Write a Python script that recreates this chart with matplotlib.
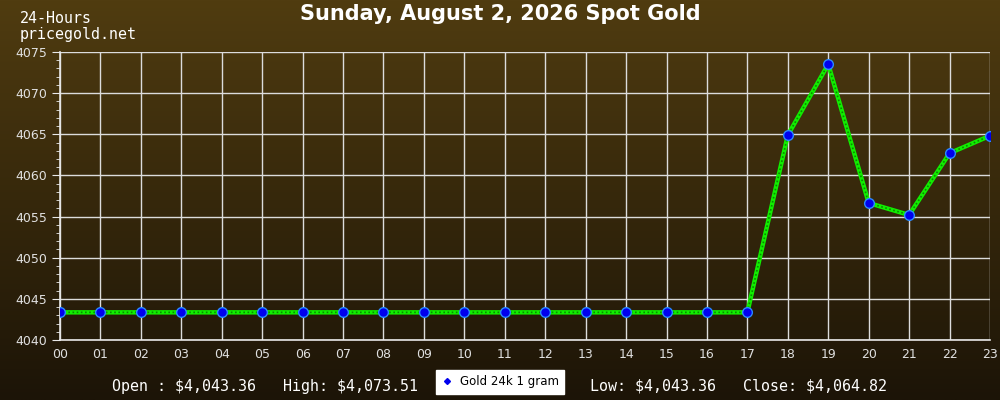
import numpy as np
import matplotlib
matplotlib.use("Agg")
import matplotlib.pyplot as plt
from matplotlib.lines import Line2D

hours = ["00","01","02","03","04","05","06","07","08","09","10","11",
         "12","13","14","15","16","17","18","19","20","21","22","23"]
prices = [4043.36]*18 + [4064.9, 4073.51, 4056.65, 4055.2, 4062.7, 4064.82]
yticks = [4040, 4045, 4050, 4055, 4060, 4065, 4070, 4075]
title = "Sunday, August 2, 2026 Spot Gold"
stats_left = "Open : \\$4,043.36   High: \\$4,073.51"
stats_right = "Low: \\$4,043.36   Close: \\$4,064.82"
legend_label = "Gold 24k 1 gram"

fig = plt.figure(figsize=(10, 4), dpi=100)

# gradient background
bg = fig.add_axes([0, 0, 1, 1], zorder=-10)
top = np.array([0x50, 0x3c, 0x10]) / 255
bot = np.array([0x1c, 0x14, 0x07]) / 255
t = np.linspace(0, 1, 256)[:, None]
grad = top[None, :] * (1 - t) + bot[None, :] * t
bg.imshow(grad[:, None, :].repeat(2, axis=1), aspect="auto", extent=[0, 1, 0, 1])
bg.set_axis_off()

ax = fig.add_axes([0.06, 0.15, 0.93, 0.72])
ax.patch.set_alpha(0)
x = np.arange(len(hours))
ax.plot(x, prices, color="#11ee00", lw=3.2, zorder=3, solid_capstyle="butt")
ax.plot(x, prices, color="#0a8a00", lw=1.2, ls=(0, (1, 1.5)), zorder=3)
ax.plot(x, prices, ls="none", marker="o", ms=7, mfc="#0000ee",
        mec="#2a8aff", mew=1, zorder=4)

ax.set_xlim(0, 23)
ax.set_ylim(4040, 4075)
ax.set_xticks(x)
ax.set_xticklabels(hours)
ax.set_yticks(yticks)
ax.set_yticks(np.arange(4040, 4076, 1), minor=True)
ax.grid(True, color="#dcdcdc", lw=1)
for s in ["top", "right"]:
    ax.spines[s].set_visible(False)
for s in ["left", "bottom"]:
    ax.spines[s].set_color("#e8e8e8")
    ax.spines[s].set_linewidth(1.2)
ax.tick_params(axis="y", which="major", length=6, color="#e8e8e8",
               labelcolor="#e0e0e0", labelsize=9)
ax.tick_params(axis="y", which="minor", length=3, color="#e8e8e8")
ax.tick_params(axis="x", length=0, labelcolor="#e0e0e0", labelsize=9, pad=6)
for lbl in ax.get_xticklabels() + ax.get_yticklabels():
    lbl.set_family("DejaVu Sans")

fig.text(0.5, 0.965, title, ha="center", va="center", color="white",
         fontsize=15, fontweight="bold", family="DejaVu Sans")
fig.text(0.02, 0.953, "24-Hours", ha="left", va="center", color="white",
         fontsize=10.8, family="DejaVu Sans Mono")
fig.text(0.02, 0.915, "pricegold.net", ha="left", va="center", color="white",
         fontsize=10.8, family="DejaVu Sans Mono")

fig.text(0.418, 0.035, stats_left, ha="right", va="center", color="white",
         fontsize=10.8, family="DejaVu Sans Mono")
fig.text(0.59, 0.035, stats_right, ha="left", va="center", color="white",
         fontsize=10.8, family="DejaVu Sans Mono")

handle = Line2D([], [], ls="none", marker="D", ms=3, mfc="#0000ee", mec="#0000ee")
leg = fig.legend([handle], [legend_label], loc="center", bbox_to_anchor=(0.5, 0.045),
                 frameon=True, fancybox=False, fontsize=8.5, handlelength=1,
                 handletextpad=0.6, borderpad=0.45, borderaxespad=0, framealpha=1)
leg.get_frame().set_facecolor("white")
leg.get_frame().set_edgecolor("white")

fig.savefig("out.png", dpi=100)
